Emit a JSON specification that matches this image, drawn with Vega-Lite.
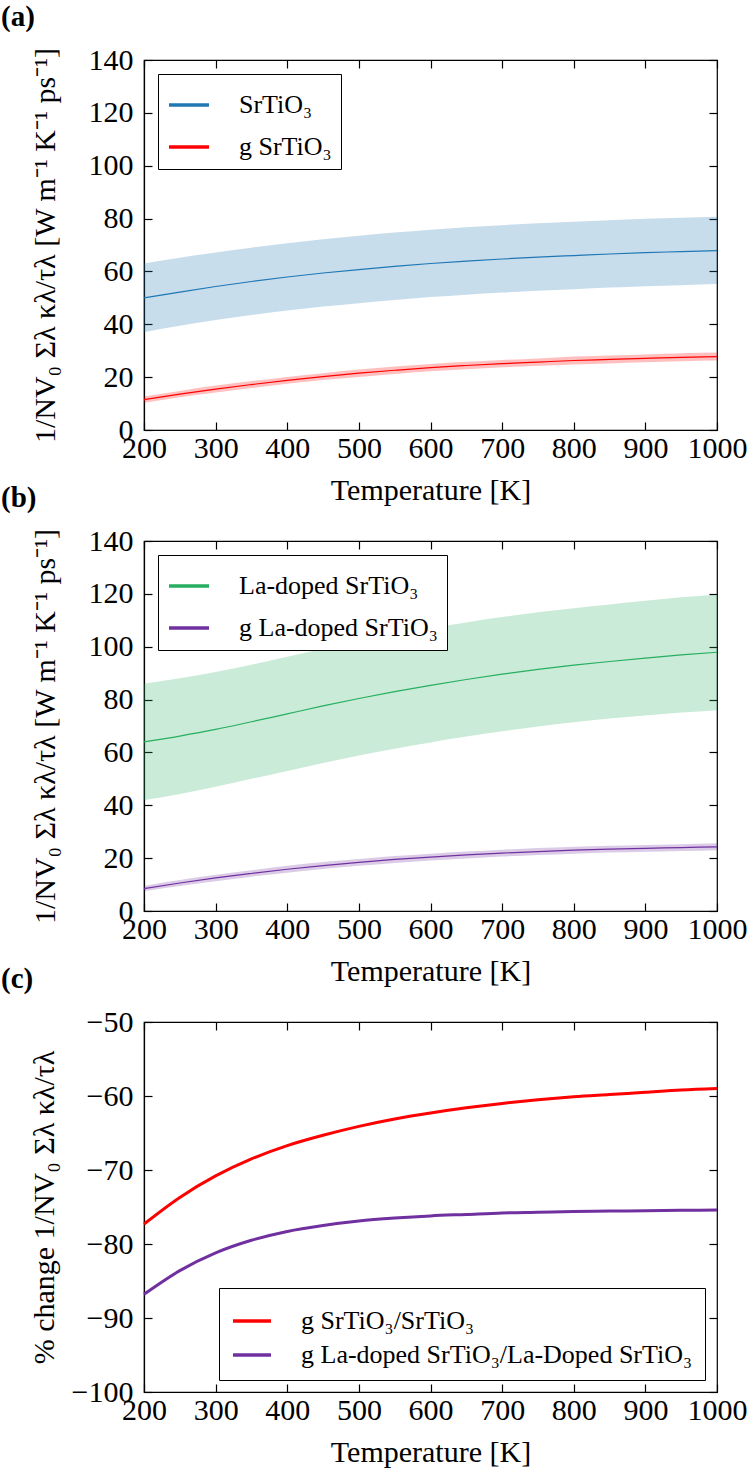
{
  "$schema": "https://vega.github.io/schema/vega-lite/v6.json",
  "padding": {"left": 0, "top": 2, "right": 0, "bottom": 0},
  "background": "white",
  "bounds": "flush",
  "spacing": 111,
  "resolve": {"scale": {"color": "independent"}, "legend": {"color": "independent"}},
  "datasets": {
    "a": [
      {"series": "SrTiO₃", "T": 200, "mean": 50.0, "lo": 37.0, "hi": 63.0},
      {"series": "SrTiO₃", "T": 250, "mean": 52.2, "lo": 39.4, "hi": 65.2},
      {"series": "SrTiO₃", "T": 300, "mean": 54.3, "lo": 41.6, "hi": 67.2},
      {"series": "SrTiO₃", "T": 350, "mean": 56.2, "lo": 43.5, "hi": 69.0},
      {"series": "SrTiO₃", "T": 400, "mean": 57.9, "lo": 45.2, "hi": 70.7},
      {"series": "SrTiO₃", "T": 450, "mean": 59.4, "lo": 46.7, "hi": 72.2},
      {"series": "SrTiO₃", "T": 500, "mean": 60.7, "lo": 48.0, "hi": 73.5},
      {"series": "SrTiO₃", "T": 550, "mean": 61.9, "lo": 49.2, "hi": 74.7},
      {"series": "SrTiO₃", "T": 600, "mean": 63.0, "lo": 50.3, "hi": 75.8},
      {"series": "SrTiO₃", "T": 650, "mean": 63.9, "lo": 51.2, "hi": 76.7},
      {"series": "SrTiO₃", "T": 700, "mean": 64.7, "lo": 52.0, "hi": 77.5},
      {"series": "SrTiO₃", "T": 750, "mean": 65.4, "lo": 52.7, "hi": 78.2},
      {"series": "SrTiO₃", "T": 800, "mean": 66.0, "lo": 53.3, "hi": 78.8},
      {"series": "SrTiO₃", "T": 850, "mean": 66.6, "lo": 53.9, "hi": 79.4},
      {"series": "SrTiO₃", "T": 900, "mean": 67.1, "lo": 54.4, "hi": 79.9},
      {"series": "SrTiO₃", "T": 950, "mean": 67.5, "lo": 54.8, "hi": 80.3},
      {"series": "SrTiO₃", "T": 1000, "mean": 67.9, "lo": 55.2, "hi": 80.7},
      {"series": "g SrTiO₃", "T": 200, "mean": 11.5, "lo": 10.3, "hi": 12.7},
      {"series": "g SrTiO₃", "T": 250, "mean": 13.6, "lo": 12.4, "hi": 14.8},
      {"series": "g SrTiO₃", "T": 300, "mean": 15.5, "lo": 14.2, "hi": 16.8},
      {"series": "g SrTiO₃", "T": 350, "mean": 17.2, "lo": 15.9, "hi": 18.5},
      {"series": "g SrTiO₃", "T": 400, "mean": 18.8, "lo": 17.5, "hi": 20.1},
      {"series": "g SrTiO₃", "T": 450, "mean": 20.2, "lo": 18.9, "hi": 21.5},
      {"series": "g SrTiO₃", "T": 500, "mean": 21.5, "lo": 20.1, "hi": 22.9},
      {"series": "g SrTiO₃", "T": 550, "mean": 22.6, "lo": 21.2, "hi": 24.0},
      {"series": "g SrTiO₃", "T": 600, "mean": 23.6, "lo": 22.2, "hi": 25.0},
      {"series": "g SrTiO₃", "T": 650, "mean": 24.4, "lo": 23.0, "hi": 25.8},
      {"series": "g SrTiO₃", "T": 700, "mean": 25.1, "lo": 23.7, "hi": 26.5},
      {"series": "g SrTiO₃", "T": 750, "mean": 25.7, "lo": 24.3, "hi": 27.1},
      {"series": "g SrTiO₃", "T": 800, "mean": 26.3, "lo": 24.8, "hi": 27.8},
      {"series": "g SrTiO₃", "T": 850, "mean": 26.7, "lo": 25.2, "hi": 28.2},
      {"series": "g SrTiO₃", "T": 900, "mean": 27.1, "lo": 25.6, "hi": 28.6},
      {"series": "g SrTiO₃", "T": 950, "mean": 27.5, "lo": 26.0, "hi": 29.0},
      {"series": "g SrTiO₃", "T": 1000, "mean": 27.8, "lo": 26.3, "hi": 29.3}
    ],
    "b": [
      {"series": "La-doped SrTiO₃", "T": 200, "mean": 64.0, "lo": 42.0, "hi": 86.0},
      {"series": "La-doped SrTiO₃", "T": 250, "mean": 66.2, "lo": 44.3, "hi": 88.1},
      {"series": "La-doped SrTiO₃", "T": 300, "mean": 68.7, "lo": 47.0, "hi": 90.4},
      {"series": "La-doped SrTiO₃", "T": 350, "mean": 71.6, "lo": 50.0, "hi": 93.2},
      {"series": "La-doped SrTiO₃", "T": 400, "mean": 74.6, "lo": 53.0, "hi": 96.2},
      {"series": "La-doped SrTiO₃", "T": 450, "mean": 77.6, "lo": 56.0, "hi": 99.2},
      {"series": "La-doped SrTiO₃", "T": 500, "mean": 80.4, "lo": 58.8, "hi": 102.0},
      {"series": "La-doped SrTiO₃", "T": 550, "mean": 83.0, "lo": 61.4, "hi": 104.6},
      {"series": "La-doped SrTiO₃", "T": 600, "mean": 85.4, "lo": 63.8, "hi": 107.0},
      {"series": "La-doped SrTiO₃", "T": 650, "mean": 87.6, "lo": 66.0, "hi": 109.2},
      {"series": "La-doped SrTiO₃", "T": 700, "mean": 89.6, "lo": 68.0, "hi": 111.2},
      {"series": "La-doped SrTiO₃", "T": 750, "mean": 91.4, "lo": 69.8, "hi": 113.0},
      {"series": "La-doped SrTiO₃", "T": 800, "mean": 93.0, "lo": 71.4, "hi": 114.6},
      {"series": "La-doped SrTiO₃", "T": 850, "mean": 94.4, "lo": 72.8, "hi": 116.0},
      {"series": "La-doped SrTiO₃", "T": 900, "mean": 95.7, "lo": 74.0, "hi": 117.4},
      {"series": "La-doped SrTiO₃", "T": 950, "mean": 96.9, "lo": 75.1, "hi": 118.7},
      {"series": "La-doped SrTiO₃", "T": 1000, "mean": 97.9, "lo": 76.0, "hi": 119.8},
      {"series": "g La-doped SrTiO₃", "T": 200, "mean": 8.5, "lo": 7.5, "hi": 9.5},
      {"series": "g La-doped SrTiO₃", "T": 250, "mean": 10.6, "lo": 9.5, "hi": 11.7},
      {"series": "g La-doped SrTiO₃", "T": 300, "mean": 12.5, "lo": 11.3, "hi": 13.7},
      {"series": "g La-doped SrTiO₃", "T": 350, "mean": 14.2, "lo": 13.0, "hi": 15.4},
      {"series": "g La-doped SrTiO₃", "T": 400, "mean": 15.8, "lo": 14.5, "hi": 17.1},
      {"series": "g La-doped SrTiO₃", "T": 450, "mean": 17.2, "lo": 15.9, "hi": 18.5},
      {"series": "g La-doped SrTiO₃", "T": 500, "mean": 18.4, "lo": 17.1, "hi": 19.7},
      {"series": "g La-doped SrTiO₃", "T": 550, "mean": 19.5, "lo": 18.2, "hi": 20.8},
      {"series": "g La-doped SrTiO₃", "T": 600, "mean": 20.4, "lo": 19.1, "hi": 21.7},
      {"series": "g La-doped SrTiO₃", "T": 650, "mean": 21.2, "lo": 19.9, "hi": 22.5},
      {"series": "g La-doped SrTiO₃", "T": 700, "mean": 21.9, "lo": 20.6, "hi": 23.2},
      {"series": "g La-doped SrTiO₃", "T": 750, "mean": 22.5, "lo": 21.2, "hi": 23.8},
      {"series": "g La-doped SrTiO₃", "T": 800, "mean": 23.0, "lo": 21.7, "hi": 24.3},
      {"series": "g La-doped SrTiO₃", "T": 850, "mean": 23.4, "lo": 22.1, "hi": 24.7},
      {"series": "g La-doped SrTiO₃", "T": 900, "mean": 23.7, "lo": 22.4, "hi": 25.0},
      {"series": "g La-doped SrTiO₃", "T": 950, "mean": 24.0, "lo": 22.7, "hi": 25.3},
      {"series": "g La-doped SrTiO₃", "T": 1000, "mean": 24.3, "lo": 23.0, "hi": 25.6}
    ],
    "c": [
      {"series": "g SrTiO₃/SrTiO₃", "T": 200, "pct": -77.3},
      {"series": "g SrTiO₃/SrTiO₃", "T": 250, "pct": -73.7},
      {"series": "g SrTiO₃/SrTiO₃", "T": 300, "pct": -70.8},
      {"series": "g SrTiO₃/SrTiO₃", "T": 350, "pct": -68.5},
      {"series": "g SrTiO₃/SrTiO₃", "T": 400, "pct": -66.7},
      {"series": "g SrTiO₃/SrTiO₃", "T": 450, "pct": -65.3},
      {"series": "g SrTiO₃/SrTiO₃", "T": 500, "pct": -64.1},
      {"series": "g SrTiO₃/SrTiO₃", "T": 550, "pct": -63.1},
      {"series": "g SrTiO₃/SrTiO₃", "T": 600, "pct": -62.3},
      {"series": "g SrTiO₃/SrTiO₃", "T": 650, "pct": -61.6},
      {"series": "g SrTiO₃/SrTiO₃", "T": 700, "pct": -61.0},
      {"series": "g SrTiO₃/SrTiO₃", "T": 750, "pct": -60.5},
      {"series": "g SrTiO₃/SrTiO₃", "T": 800, "pct": -60.1},
      {"series": "g SrTiO₃/SrTiO₃", "T": 850, "pct": -59.8},
      {"series": "g SrTiO₃/SrTiO₃", "T": 900, "pct": -59.5},
      {"series": "g SrTiO₃/SrTiO₃", "T": 950, "pct": -59.2},
      {"series": "g SrTiO₃/SrTiO₃", "T": 1000, "pct": -59.0},
      {"series": "g La-doped SrTiO₃/La-Doped SrTiO₃", "T": 200, "pct": -86.8},
      {"series": "g La-doped SrTiO₃/La-Doped SrTiO₃", "T": 250, "pct": -83.6},
      {"series": "g La-doped SrTiO₃/La-Doped SrTiO₃", "T": 300, "pct": -81.2},
      {"series": "g La-doped SrTiO₃/La-Doped SrTiO₃", "T": 350, "pct": -79.5},
      {"series": "g La-doped SrTiO₃/La-Doped SrTiO₃", "T": 400, "pct": -78.3},
      {"series": "g La-doped SrTiO₃/La-Doped SrTiO₃", "T": 450, "pct": -77.5},
      {"series": "g La-doped SrTiO₃/La-Doped SrTiO₃", "T": 500, "pct": -76.9},
      {"series": "g La-doped SrTiO₃/La-Doped SrTiO₃", "T": 550, "pct": -76.5},
      {"series": "g La-doped SrTiO₃/La-Doped SrTiO₃", "T": 600, "pct": -76.2},
      {"series": "g La-doped SrTiO₃/La-Doped SrTiO₃", "T": 650, "pct": -76.0},
      {"series": "g La-doped SrTiO₃/La-Doped SrTiO₃", "T": 700, "pct": -75.8},
      {"series": "g La-doped SrTiO₃/La-Doped SrTiO₃", "T": 750, "pct": -75.7},
      {"series": "g La-doped SrTiO₃/La-Doped SrTiO₃", "T": 800, "pct": -75.6},
      {"series": "g La-doped SrTiO₃/La-Doped SrTiO₃", "T": 850, "pct": -75.55},
      {"series": "g La-doped SrTiO₃/La-Doped SrTiO₃", "T": 900, "pct": -75.5},
      {"series": "g La-doped SrTiO₃/La-Doped SrTiO₃", "T": 950, "pct": -75.45},
      {"series": "g La-doped SrTiO₃/La-Doped SrTiO₃", "T": 1000, "pct": -75.4}
    ]
  },
  "config": {
    "font": "Liberation Serif",
    "view": {"stroke": "black", "strokeWidth": 1.2},
    "axis": {
      "grid": false,
      "domainColor": "black",
      "domainWidth": 1.2,
      "tickColor": "black",
      "tickSize": -8,
      "tickWidth": 1.2,
      "labelFont": "Liberation Serif",
      "labelFontSize": 30,
      "labelColor": "black",
      "titleFont": "Liberation Serif",
      "titleFontSize": 30,
      "titleFontWeight": "normal",
      "titleColor": "black"
    },
    "axisX": {"labelPadding": 11, "titlePadding": 12, "labelFlush": false, "format": "d"},
    "axisY": {"labelPadding": 19},
    "legend": {
      "labelFont": "Liberation Serif",
      "labelFontSize": 26,
      "labelColor": "black",
      "labelLimit": 600,
      "symbolType": "stroke",
      "symbolStrokeWidth": 3.5,
      "symbolSize": 1600,
      "strokeColor": "black",
      "fillColor": "white",
      "cornerRadius": 0,
      "padding": 9,
      "rowPadding": 7,
      "labelOffset": 28
    },
    "title": {
      "font": "Liberation Serif",
      "fontSize": 29,
      "fontWeight": "bold",
      "color": "black",
      "anchor": "start",
      "frame": "group",
      "dx": -143,
      "offset": 13
    }
  },
  "vconcat": [
    {
      "width": 573,
      "height": 370,
      "title": {"text": "(a)"},
      "data": {"name": "a"},
      "layer": [
        {
          "transform": [{"filter": "datum.series === 'SrTiO₃'"}],
          "mark": {"type": "area", "color": "#1f77b4", "fillOpacity": 0.25, "interpolate": "monotone"},
          "encoding": {
            "x": {"field": "T", "type": "quantitative", "scale": {"domain": [200, 1000], "nice": false},
              "axis": {"title": "Temperature [K]", "values": [200, 300, 400, 500, 600, 700, 800, 900, 1000]}},
            "y": {"field": "lo", "type": "quantitative", "scale": {"domain": [0, 140], "nice": false},
              "axis": {"title": "1/NV₀ Σλ κλ/τλ [W m⁻¹ K⁻¹ ps⁻¹]", "values": [0, 20, 40, 60, 80, 100, 120, 140], "titlePadding": 28}},
            "y2": {"field": "hi"}
          }
        },
        {
          "transform": [{"filter": "datum.series === 'g SrTiO₃'"}],
          "mark": {"type": "area", "color": "#ff0000", "fillOpacity": 0.25, "interpolate": "monotone"},
          "encoding": {
            "x": {"field": "T", "type": "quantitative", "axis": null},
            "y": {"field": "lo", "type": "quantitative", "axis": null},
            "y2": {"field": "hi"}
          }
        },
        {
          "mark": {"type": "line", "strokeWidth": 1.2, "interpolate": "monotone"},
          "encoding": {
            "x": {"field": "T", "type": "quantitative",
              "axis": {"orient": "top", "labels": false, "title": null, "domain": false, "values": [200, 300, 400, 500, 600, 700, 800, 900, 1000]}},
            "y": {"field": "mean", "type": "quantitative",
              "axis": {"orient": "right", "labels": false, "title": null, "domain": false, "values": [0, 20, 40, 60, 80, 100, 120, 140]}},
            "color": {"field": "series", "type": "nominal", "scale": {"domain": ["SrTiO₃", "g SrTiO₃"], "range": ["#1f77b4", "#ff0000"]},
              "legend": {"title": null, "orient": "top-left", "offset": 14}}
          }
        }
      ],
      "resolve": {"axis": {"x": "independent", "y": "independent"}}
    },
    {
      "width": 573,
      "height": 370,
      "title": {"text": "(b)"},
      "data": {"name": "b"},
      "layer": [
        {
          "transform": [{"filter": "datum.series === 'La-doped SrTiO₃'"}],
          "mark": {"type": "area", "color": "#27ae60", "fillOpacity": 0.25, "interpolate": "monotone"},
          "encoding": {
            "x": {"field": "T", "type": "quantitative", "scale": {"domain": [200, 1000], "nice": false},
              "axis": {"title": "Temperature [K]", "values": [200, 300, 400, 500, 600, 700, 800, 900, 1000]}},
            "y": {"field": "lo", "type": "quantitative", "scale": {"domain": [0, 140], "nice": false},
              "axis": {"title": "1/NV₀ Σλ κλ/τλ [W m⁻¹ K⁻¹ ps⁻¹]", "values": [0, 20, 40, 60, 80, 100, 120, 140], "titlePadding": 28}},
            "y2": {"field": "hi"}
          }
        },
        {
          "transform": [{"filter": "datum.series === 'g La-doped SrTiO₃'"}],
          "mark": {"type": "area", "color": "#7030a0", "fillOpacity": 0.25, "interpolate": "monotone"},
          "encoding": {
            "x": {"field": "T", "type": "quantitative", "axis": null},
            "y": {"field": "lo", "type": "quantitative", "axis": null},
            "y2": {"field": "hi"}
          }
        },
        {
          "mark": {"type": "line", "strokeWidth": 1.2, "interpolate": "monotone"},
          "encoding": {
            "x": {"field": "T", "type": "quantitative",
              "axis": {"orient": "top", "labels": false, "title": null, "domain": false, "values": [200, 300, 400, 500, 600, 700, 800, 900, 1000]}},
            "y": {"field": "mean", "type": "quantitative",
              "axis": {"orient": "right", "labels": false, "title": null, "domain": false, "values": [0, 20, 40, 60, 80, 100, 120, 140]}},
            "color": {"field": "series", "type": "nominal", "scale": {"domain": ["La-doped SrTiO₃", "g La-doped SrTiO₃"], "range": ["#27ae60", "#7030a0"]},
              "legend": {"title": null, "orient": "top-left", "offset": 14}}
          }
        }
      ],
      "resolve": {"axis": {"x": "independent", "y": "independent"}}
    },
    {
      "width": 573,
      "height": 370,
      "title": {"text": "(c)"},
      "data": {"name": "c"},
      "layer": [
        {
          "mark": {"type": "line", "strokeWidth": 3, "interpolate": "monotone"},
          "encoding": {
            "x": {"field": "T", "type": "quantitative", "scale": {"domain": [200, 1000], "nice": false},
              "axis": {"title": "Temperature [K]", "values": [200, 300, 400, 500, 600, 700, 800, 900, 1000]}},
            "y": {"field": "pct", "type": "quantitative", "scale": {"domain": [-100, -50], "nice": false},
              "axis": {"title": "% change 1/NV₀ Σλ κλ/τλ", "values": [-100, -90, -80, -70, -60, -50], "titlePadding": 12}},
            "color": {"field": "series", "type": "nominal", "scale": {"domain": ["g SrTiO₃/SrTiO₃", "g La-doped SrTiO₃/La-Doped SrTiO₃"], "range": ["#ff0000", "#7030a0"]},
              "legend": {"title": null, "orient": "bottom-right", "offset": 12, "padding": 12, "rowPadding": 0, "symbolSize": 1444}}
          }
        },
        {
          "mark": {"type": "line", "strokeOpacity": 0},
          "encoding": {
            "x": {"field": "T", "type": "quantitative",
              "axis": {"orient": "top", "labels": false, "title": null, "domain": false, "values": [200, 300, 400, 500, 600, 700, 800, 900, 1000]}},
            "y": {"field": "pct", "type": "quantitative",
              "axis": {"orient": "right", "labels": false, "title": null, "domain": false, "values": [-100, -90, -80, -70, -60, -50]}},
            "detail": {"field": "series", "type": "nominal"}
          }
        }
      ],
      "resolve": {"axis": {"x": "independent", "y": "independent"}}
    }
  ]
}
